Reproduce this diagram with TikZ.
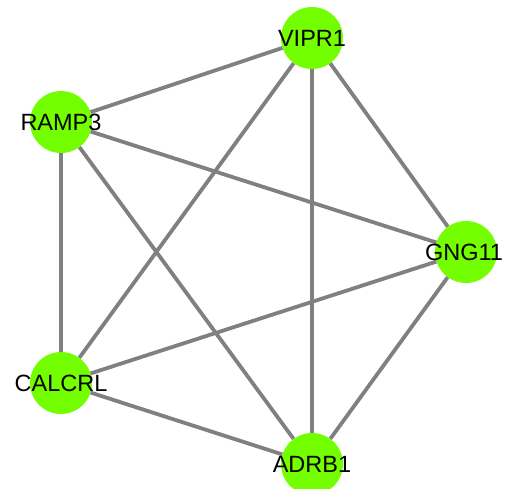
\documentclass[tikz,border=0pt]{standalone}
\usepackage{fontspec}
\setmainfont{Liberation Sans}
\usepackage{xcolor}
\usepackage{tikz}
\definecolor{genegreen}{RGB}{115,255,0}
\definecolor{edgegray}{RGB}{128,128,128}

\begin{document}
\begin{tikzpicture}[x=1pt, y=-1pt, gene/.style ={circle, fill = genegreen, minimum size=62pt, inner sep=0pt, font=\fontsize{23.5}{24}\selectfont}, link/.style={draw = edgegray, line width=3.8pt}]
\useasboundingbox (0,0) rectangle (508,488);
\node[gene] (VIPR1) at (312,38) {};
\node[gene] (RAMP3) at (61,122) {};
\node[gene] (GNG11) at (466,252) {};
\node[gene] (CALCRL) at (61,383) {};
\node[gene] (ADRB1) at (312,464) {};
\path[link] (RAMP3) -- (VIPR1)
(RAMP3) -- (GNG11)
(RAMP3) -- (CALCRL)
(RAMP3) -- (ADRB1)
(VIPR1) -- (CALCRL)
(VIPR1) -- (ADRB1)
(VIPR1) -- (GNG11)
(GNG11) -- (CALCRL)
(GNG11) -- (ADRB1)
(CALCRL) -- (ADRB1);
\node[gene, fill = none] at (VIPR1) {VIPR1};
\node[gene, fill = none] at (RAMP3) {RAMP3};
\node[gene, fill = none] at ([xshift=-2pt]GNG11) {GNG11};
\node[gene, fill = none] at (CALCRL) {CALCRL};
\node[gene, fill = none] at (ADRB1) {ADRB1};
\end{tikzpicture}
\end{document}
